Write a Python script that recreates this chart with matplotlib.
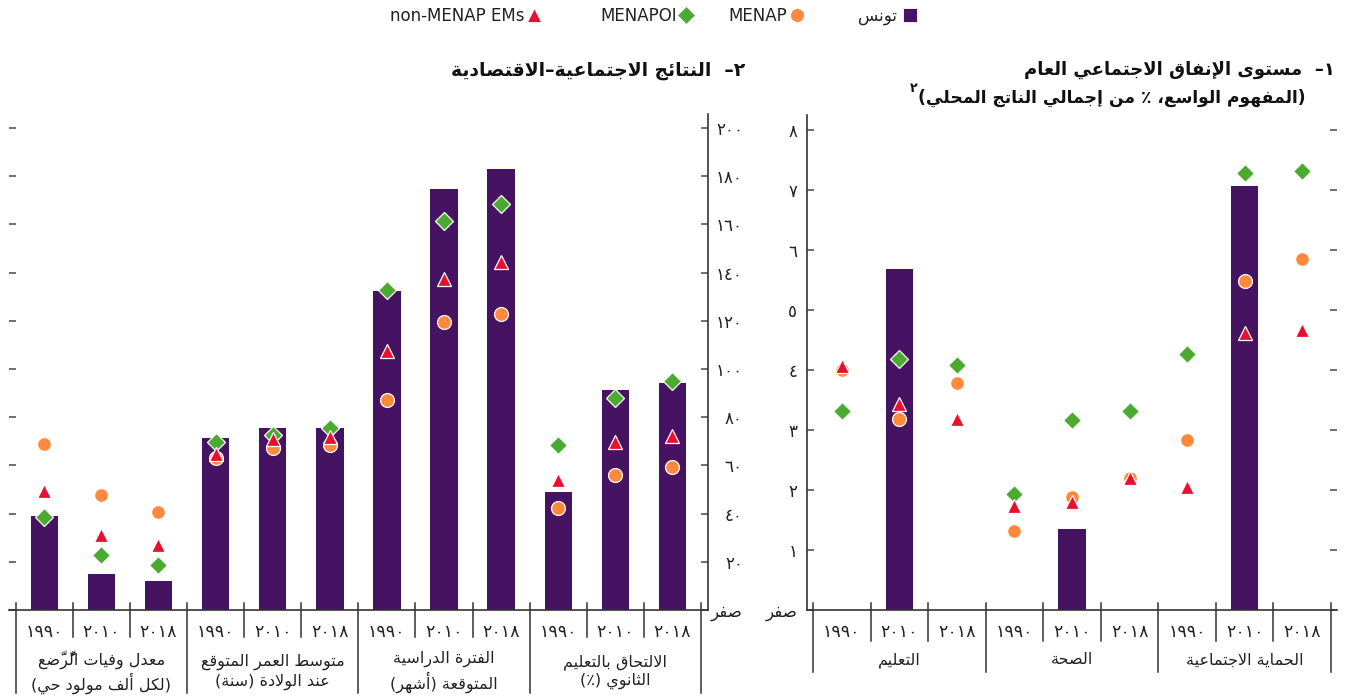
import numpy as np
import matplotlib
matplotlib.use("Agg")
import matplotlib.pyplot as plt
from matplotlib.lines import Line2D
from matplotlib.transforms import blended_transform_factory

plt.rcParams["font.family"] = ["DejaVu Sans"]

# ---------------------------------------------------------------- data
years = ["١٩٩٠", "٢٠١٠", "٢٠١٨"]
series_names = ["تونس", "MENAP", "MENAPOI", "non-MENAP EMs"]

# Panel 1: public social spending (% of GDP)
spending_groups = ["التعليم", "الصحة", "الحماية الاجتماعية"]
spending_tunisia = [np.nan, 5.68, np.nan, np.nan, 1.35, np.nan, np.nan, 7.07, np.nan]
spending_menap = [4.00, 3.19, 3.79, 1.32, 1.88, 2.20, 2.83, 5.48, 5.85]
spending_menapoi = [3.31, 4.19, 4.08, 1.94, 3.17, 3.31, 4.27, 7.28, 7.32]
spending_nonmenap = [4.06, 3.43, 3.19, 1.74, 1.80, 2.20, 2.05, 4.62, 4.67]
spending_ticks = [0, 1, 2, 3, 4, 5, 6, 7, 8]
spending_tick_labels = ["صفر", "١", "٢", "٣", "٤", "٥", "٦", "٧", "٨"]

# Panel 2: socio-economic outcomes
outcome_groups = [
    "معدل وفيات الر\u0651\u064Fض\u0651\u064Eع\n(لكل ألف مولود حي)",
    "متوسط العمر المتوقع\nعند الولادة (سنة)",
    "الفترة الدراسية\nالمتوقعة (أشهر)",
    "الالتحاق بالتعليم\nالثانوي (٪)",
]
outcome_tunisia = [39, 15, 12, 71.5, 75.5, 75.5, 132.5, 174.5, 183, 49, 91.3, 94]
outcome_menap = [69, 47.7, 40.5, 63, 67.4, 68.5, 87, 119.5, 122.8, 42.3, 56, 59.3]
outcome_menapoi = [38.5, 23, 18.7, 69.6, 72.6, 75.4, 132.8, 161.4, 168.5, 68.5, 88, 95]
outcome_nonmenap = [49.5, 31, 26.8, 64.7, 70.8, 71.9, 107.5, 137.3, 144.4, 54, 69.7, 72.2]
outcome_ticks = [0, 20, 40, 60, 80, 100, 120, 140, 160, 180, 200]
outcome_tick_labels = ["صفر", "٢٠", "٤٠", "٦٠", "٨٠", "١٠٠", "١٢٠", "١٤٠", "١٦٠", "١٨٠", "٢٠٠"]

title_outcomes = "٢–  النتائج الاجتماعية–الاقتصادية"
title_spending_1 = "١–  مستوى الإنفاق الاجتماعي العام"
title_spending_2 = "(المفهوم الواسع، ٪ من إجمالي الناتج المحلي)"
title_spending_note = "٢"

# ------------------------------------------------- Arabic text shaping
_AR_BASE = {
    0x0621: (0xFE80, "U"), 0x0622: (0xFE81, "R"), 0x0623: (0xFE83, "R"),
    0x0624: (0xFE85, "R"), 0x0625: (0xFE87, "R"), 0x0626: (0xFE89, "D"),
    0x0627: (0xFE8D, "R"), 0x0628: (0xFE8F, "D"), 0x0629: (0xFE93, "R"),
    0x062A: (0xFE95, "D"), 0x062B: (0xFE99, "D"), 0x062C: (0xFE9D, "D"),
    0x062D: (0xFEA1, "D"), 0x062E: (0xFEA5, "D"), 0x062F: (0xFEA9, "R"),
    0x0630: (0xFEAB, "R"), 0x0631: (0xFEAD, "R"), 0x0632: (0xFEAF, "R"),
    0x0633: (0xFEB1, "D"), 0x0634: (0xFEB5, "D"), 0x0635: (0xFEB9, "D"),
    0x0636: (0xFEBD, "D"), 0x0637: (0xFEC1, "D"), 0x0638: (0xFEC5, "D"),
    0x0639: (0xFEC9, "D"), 0x063A: (0xFECD, "D"), 0x0641: (0xFED1, "D"),
    0x0642: (0xFED5, "D"), 0x0643: (0xFED9, "D"), 0x0644: (0xFEDD, "D"),
    0x0645: (0xFEE1, "D"), 0x0646: (0xFEE5, "D"), 0x0647: (0xFEE9, "D"),
    0x0648: (0xFEED, "R"), 0x0649: (0xFEEF, "R"), 0x064A: (0xFEF1, "D"),
}
_LAM_ALEF = {0x0622: 0xFEF5, 0x0623: 0xFEF7, 0x0625: 0xFEF9, 0x0627: 0xFEFB}
_MIRROR = str.maketrans("()", ")(")


def _is_mark(ch):
    o = ord(ch)
    return 0x064B <= o <= 0x0652 or o == 0x0670


def _join_type(base):
    if base.startswith("LA"):
        return "R"
    if len(base) == 1 and ord(base) in _AR_BASE:
        return _AR_BASE[ord(base)][1]
    return "U"


def _shape_clusters(line):
    clusters = []
    for ch in line:
        if _is_mark(ch) and clusters:
            clusters[-1][1] += ch
        else:
            clusters.append([ch, ""])
    merged = []
    i = 0
    while i < len(clusters):
        b, m = clusters[i]
        if (b == "\u0644" and i + 1 < len(clusters)
                and ord(clusters[i + 1][0]) in _LAM_ALEF):
            merged.append(["LA" + clusters[i + 1][0], m + clusters[i + 1][1]])
            i += 2
        else:
            merged.append([b, m])
            i += 1
    out = []
    n = len(merged)
    for i, (b, m) in enumerate(merged):
        jt = _join_type(b)
        prev_jt = _join_type(merged[i - 1][0]) if i > 0 else "U"
        next_jt = _join_type(merged[i + 1][0]) if i < n - 1 else "U"
        cp = jt in ("D", "R") and prev_jt == "D"
        cn = jt == "D" and next_jt in ("D", "R")
        if b.startswith("LA"):
            g = chr(_LAM_ALEF[ord(b[2])] + (1 if cp else 0))
        elif len(b) == 1 and ord(b) in _AR_BASE:
            base, t = _AR_BASE[ord(b)]
            if t == "U":
                g = chr(base)
            elif t == "R":
                g = chr(base + (1 if cp else 0))
            else:
                idx = 3 if (cp and cn) else 1 if cp else 2 if cn else 0
                g = chr(base + idx)
        else:
            g = b
        ltr = len(b) == 1 and (b.isdigit() or ("a" <= b.lower() <= "z"))
        out.append((g + m, ltr))
    return out


def _visual(line):
    tokens, run = [], ""
    for s, ltr in _shape_clusters(line):
        if ltr:
            run += s
        else:
            if run:
                tokens.append(run)
                run = ""
            tokens.append(s.translate(_MIRROR))
    if run:
        tokens.append(run)
    return "".join(reversed(tokens))


def ar(text):
    return "\n".join(_visual(line) for line in text.split("\n"))


# ---------------------------------------------------------------- style
BAR_C = "#461363"
MENAP_C = "#FF8A3D"
MENAPOI_C = "#4DAA30"
NONMENAP_C = "#E8102E"
AXIS_C = "#333333"
TICK_C = "#555555"
TEXT_C = "#222222"

W, H = 1347.0, 696.0
fig = plt.figure(figsize=(13.47, 6.96), dpi=100)


def add_axes_px(x0, x1, y_top, y_bot):
    return fig.add_axes([x0 / W, 1 - y_bot / H, (x1 - x0) / W, (y_bot - y_top) / H])


def draw_series(ax, tunisia, menap, menapoi, nonmenap):
    x = np.arange(len(menap))
    t = np.asarray(tunisia, dtype=float)
    ok = ~np.isnan(t)
    ax.bar(x[ok], t[ok], width=0.48, color=BAR_C, zorder=2)
    common = dict(ls="none", mec="white", mew=0.9, clip_on=False)
    ax.plot(x, menap, marker="o", ms=10, mfc=MENAP_C, zorder=3, **common)
    ax.plot(x, menapoi, marker="D", ms=9, mfc=MENAPOI_C, zorder=4, **common)
    ax.plot(x, nonmenap, marker="^", ms=10.5, mfc=NONMENAP_C, zorder=5, **common)


def draw_categories(ax, groups, h_px, inner_px, outer_px, year_px, group_px):
    n = len(groups) * len(years)
    tr = blended_transform_factory(ax.transData, ax.transAxes)
    up = 7 / h_px
    for k in range(n + 1):
        depth = outer_px if k % 3 == 0 else inner_px
        ax.add_line(Line2D([k - 0.5, k - 0.5], [up, -depth / h_px], transform=tr,
                           color=AXIS_C, lw=1.1, clip_on=False, zorder=6))
    for i in range(n):
        ax.text(i, -year_px / h_px, years[i % 3], transform=tr, ha="center",
                va="center", fontsize=12.5, color=TEXT_C)
    for g, label in enumerate(groups):
        ax.text(3 * g + 1, -group_px / h_px, ar(label), transform=tr, ha="center",
                va="center", fontsize=11.5, linespacing=1.25, color=TEXT_C)


def style_axes(ax):
    for s in ("top", "left", "right", "bottom"):
        ax.spines[s].set_color(AXIS_C)
        ax.spines[s].set_linewidth(1.2)
    ax.spines["top"].set_visible(False)
    ax.tick_params(axis="x", bottom=False, labelbottom=False)


# ------------------------------------------------ panel 2 (outcomes, left)
ax_out = add_axes_px(9, 708, 113.5, 610)
draw_series(ax_out, outcome_tunisia, outcome_menap, outcome_menapoi, outcome_nonmenap)
ax_out.set_xlim(-0.5 - 6.7 / 57.1, 11.5 + 7.0 / 57.1)
ax_out.set_ylim(0, 206)
style_axes(ax_out)
ax_out.spines["left"].set_visible(False)
ax_out.set_yticks(outcome_ticks)
ax_out.set_yticklabels([ar(s) for s in outcome_tick_labels])
ax_out.tick_params(axis="y", left=True, right=True, labelleft=False, labelright=True,
                   direction="in", length=5, width=1.2, color=TICK_C, pad=25,
                   labelsize=12, labelcolor=TEXT_C)
for tk in ax_out.yaxis.get_major_ticks():
    tk.label2.set_horizontalalignment("right")
draw_categories(ax_out, outcome_groups, 496.5, 27, 83, 22, 62)

# ------------------------------------------------ panel 1 (spending, right)
ax_sp = add_axes_px(807, 1337, 115, 610)
draw_series(ax_sp, spending_tunisia, spending_menap, spending_menapoi, spending_nonmenap)
ax_sp.set_xlim(-0.5 - 6.0 / 57.56, 8.5 + 6.0 / 57.56)
ax_sp.set_ylim(0, 8.25)
style_axes(ax_sp)
ax_sp.spines["right"].set_visible(False)
ax_sp.set_yticks(spending_ticks)
ax_sp.set_yticklabels([ar(s) for s in spending_tick_labels])
ax_sp.tick_params(axis="y", left=True, right=True, labelleft=True, labelright=False,
                  direction="in", length=5, width=1.2, color=TICK_C, pad=7,
                  labelsize=12, labelcolor=TEXT_C)
draw_categories(ax_sp, spending_groups, 495, 31, 62, 22, 50)

# ---------------------------------------------------------------- titles
fig.text(745 / W, 1 - 70 / H, ar(title_outcomes), ha="right", va="center",
         fontsize=13.5, fontweight="bold", color="#111111")
fig.text(1335 / W, 1 - 70 / H, ar(title_spending_1), ha="right", va="center",
         fontsize=13, fontweight="bold", color="#111111")
sub = fig.text(1306 / W, 1 - 98 / H, ar(title_spending_2), ha="right", va="center",
               fontsize=12.3, fontweight="bold", color="#111111")
fig.canvas.draw()
bb = sub.get_window_extent(fig.canvas.get_renderer())
fig.text((bb.x0 - 1) / W, (bb.y1 - 6) / H, title_spending_note, ha="right",
         va="bottom", fontsize=9, fontweight="bold", color="#111111")

# ---------------------------------------------------------------- legend
legend_items = [
    (910, "s", BAR_C, 10, 897, ar(series_names[0])),
    (797, "o", MENAP_C, 10, 787, series_names[1]),
    (686, "D", MENAPOI_C, 9, 677, series_names[2]),
    (534, "^", NONMENAP_C, 10.5, 525, series_names[3]),
]
for mx, mk, col, ms, tx, label in legend_items:
    fig.add_artist(Line2D([mx / W], [1 - 15 / H], transform=fig.transFigure,
                          marker=mk, ms=ms, mfc=col, mec="white", mew=0.6, ls="none"))
    fig.text(tx / W, 1 - 16 / H, label, ha="right", va="center", fontsize=12,
             color=TEXT_C)

fig.savefig("out.png", dpi=100)
